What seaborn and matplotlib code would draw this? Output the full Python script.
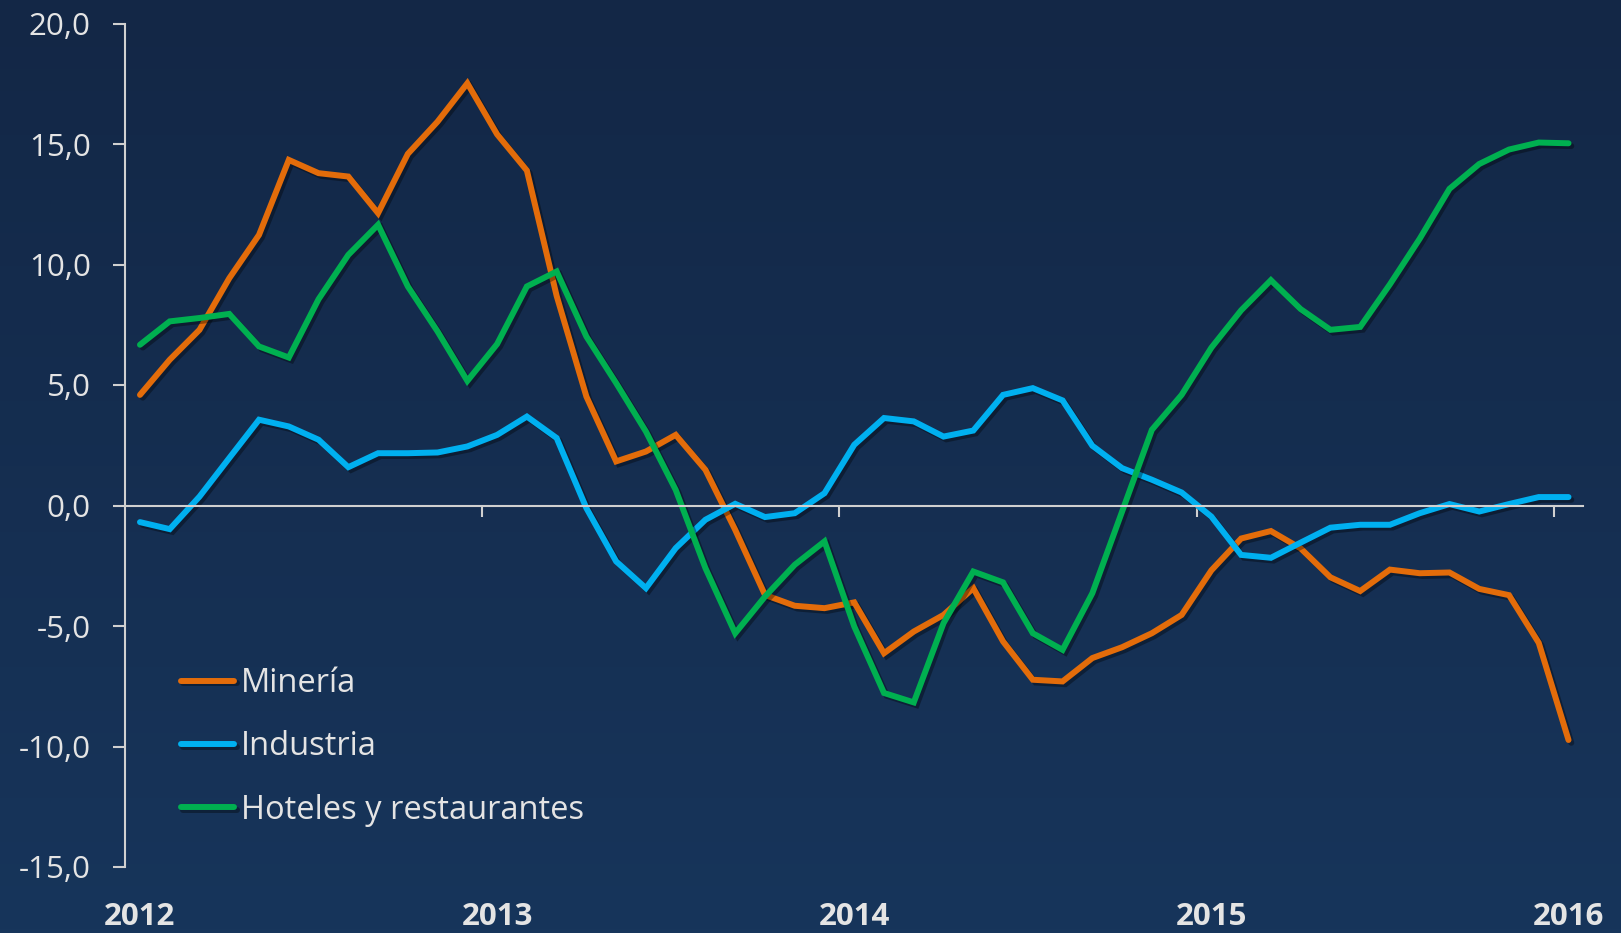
import matplotlib
matplotlib.use("Agg")
import matplotlib.pyplot as plt
import matplotlib.patheffects as pe
from matplotlib.ticker import FuncFormatter
import seaborn as sns
import numpy as np
import pandas as pd

# monthly series, Jan 2012 .. Jan 2016 (49 months)
mineria = [4.59, 6.05, 7.29, 9.43, 11.23, 14.34, 13.79, 13.65, 12.13, 14.59, 15.93, 17.52,
           15.4, 13.9, 8.7, 4.52, 1.83, 2.24, 2.93, 1.48, -1.01, -3.71, -4.16, -4.26,
           -4.02, -6.13, -5.23, -4.54, -3.43, -5.64, -7.23, -7.30, -6.33, -5.88, -5.30, -4.54,
           -2.69, -1.37, -1.06, -1.78, -2.98, -3.55, -2.66, -2.81, -2.78, -3.46, -3.72, -5.70,
           -9.73]
industria = [-0.69, -0.98, 0.37, 1.97, 3.56, 3.28, 2.73, 1.59, 2.17, 2.17, 2.20, 2.45,
             2.93, 3.69, 2.80, -0.11, -2.32, -3.43, -1.77, -0.59, 0.07, -0.48, -0.32, 0.51,
             2.52, 3.63, 3.49, 2.86, 3.11, 4.59, 4.87, 4.36, 2.48, 1.55, 1.07, 0.54,
             -0.46, -2.05, -2.17, -1.54, -0.92, -0.80, -0.80, -0.32, 0.06, -0.25, 0.06, 0.35,
             0.35]
hoteles = [6.67, 7.64, 7.78, 7.95, 6.60, 6.14, 8.56, 10.40, 11.65, 9.09, 7.22, 5.17,
           6.70, 9.09, 9.71, 7.01, 5.08, 3.07, 0.65, -2.60, -5.30, -3.78, -2.46, -1.49,
           -5.02, -7.78, -8.17, -4.88, -2.74, -3.19, -5.30, -5.99, -3.64, -0.25, 3.14, 4.59,
           6.55, 8.10, 9.35, 8.15, 7.29, 7.41, 9.18, 11.07, 13.14, 14.17, 14.77, 15.06,
           15.03]
series_names = ["Minería", "Industria", "Hoteles y restaurantes"]
colors = ["#E36C0A", "#00B0F0", "#00B050"]
years = ["2012", "2013", "2014", "2015", "2016"]
y_ticks = [-15, -10, -5, 0, 5, 10, 15, 20]

n = len(mineria)
df = pd.DataFrame({
    "mes": np.tile(np.arange(n), 3),
    "valor": mineria + industria + hoteles,
    "sector": np.repeat(series_names, n),
})

sns.set_style("white")
plt.rcParams["font.family"] = ["Open Sans", "DejaVu Sans"]
txt = "#E4E4E4"
axis_col = "#D0D0D0"
fs = 22.5

fig = plt.figure(figsize=(16.21, 9.33), dpi=100)

# background gradient
bg = fig.add_axes([0, 0, 1, 1], zorder=0)
grad = np.linspace(0, 1, 256).reshape(-1, 1)
top = np.array([0x13, 0x27, 0x46]) / 255
bot = np.array([0x17, 0x35, 0x5B]) / 255
img = top + (bot - top) * grad[:, :, None]
bg.imshow(img, aspect="auto", extent=[0, 1, 0, 1], origin="upper")
bg.axis("off")

ax = fig.add_axes([125.1 / 1621, 66 / 933, (1583.4 - 125.1) / 1621, (909.5 - 66) / 933], zorder=1)
ax.patch.set_alpha(0)

sns.lineplot(data=df, x="mes", y="valor", hue="sector", palette=colors,
             linewidth=4.3, ax=ax, legend=True)
for line in ax.lines:
    line.set_solid_capstyle("round")
    line.set_solid_joinstyle("miter")
    line.set_path_effects([pe.SimpleLineShadow(offset=(2, -2), shadow_color="black", alpha=0.35),
                           pe.Normal()])

ax.set_xlim(-0.5, n - 0.5)
ax.set_ylim(-15, 20)
ax.set_xlabel("")
ax.set_ylabel("")

for s in ["top", "right"]:
    ax.spines[s].set_visible(False)
ax.spines["left"].set_color(axis_col)
ax.spines["left"].set_linewidth(1.5)
ax.spines["bottom"].set_position(("data", 0))
ax.spines["bottom"].set_color(axis_col)
ax.spines["bottom"].set_linewidth(1.5)

ax.set_yticks(y_ticks)
ax.yaxis.set_major_formatter(FuncFormatter(lambda v, p: f"{v:.1f}".replace(".", ",")))
ax.tick_params(axis="y", left=True, direction="out", length=8.6, width=1.5, color=axis_col,
               labelcolor=txt, labelsize=fs, pad=16)

# year boundaries as ticks on the zero line
ax.set_xticks(np.arange(11.5, n, 12))
ax.tick_params(axis="x", bottom=True, direction="out", length=8, width=1.5, color=axis_col,
               labelbottom=False)

# year labels at the bottom
sec = ax.secondary_xaxis(0)
sec.set_xticks(np.arange(0, n, 12))
sec.set_xticklabels(years, fontweight="bold")
sec.tick_params(bottom=True, length=0, labelsize=fs, labelcolor=txt, pad=25)
sec.spines["bottom"].set_visible(False)

leg = ax.legend(loc="upper left", bbox_to_anchor=(0.038, 0.237), frameon=False,
                fontsize=23.5, handlelength=1.65, handletextpad=0.2, labelspacing=0.93,
                borderpad=0, borderaxespad=0)
for t in leg.get_texts():
    t.set_color(txt)
for h in leg.get_lines():
    h.set_linewidth(4.3)
    h.set_solid_capstyle("round")

fig.savefig("out.png", dpi=100, facecolor=fig.get_facecolor())
